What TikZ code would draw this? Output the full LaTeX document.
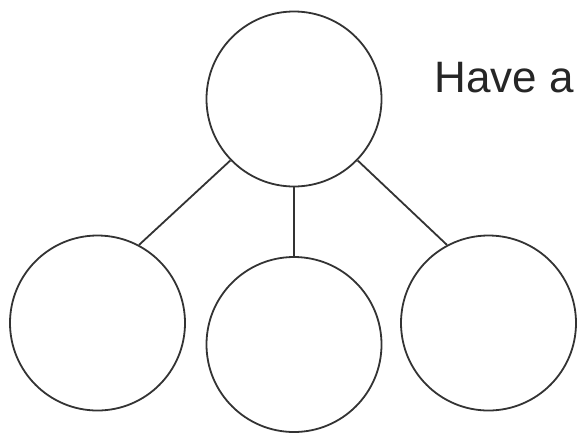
\documentclass[tikz,border=0pt]{standalone}
\usepackage{fontspec}
\setmainfont{Liberation Sans}
\begin{document}
\begin{tikzpicture}[x=1pt,y=-1pt,
  bubble/.style={circle, draw=black!80, line width=1.8pt, minimum size=175pt, inner sep=0pt},
  link/.style={draw=black!80, line width=1.8pt}]
\useasboundingbox (0,0) rectangle (577,434);
\node[bubble] (top) at (294,99) {};
\node[bubble] (left) at (97.5,323) {};
\node[bubble] (mid) at (294,344.5) {};
\node[bubble] (right) at (488.5,323) {};
\draw[link] (top.224) -- (left.62);
\draw[link] (top.south) -- (mid.north);
\draw[link] (top.316) -- (right.118);
\node[anchor=base west, inner sep=0pt, text=black!85, font=\fontsize{44}{50}\selectfont] (txt) at (434.5,92) {Have a};
\end{tikzpicture}
\end{document}
